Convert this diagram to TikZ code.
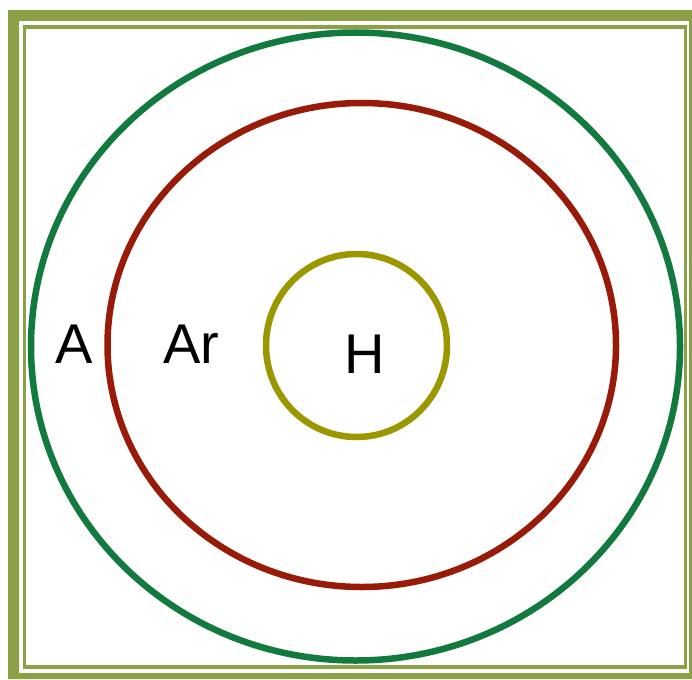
\documentclass[tikz,border=0pt]{standalone}
\usepackage{fontspec}
\setmainfont{Liberation Sans}
\usepackage{tikz}
\definecolor{framegreen}{HTML}{8BA047}
\definecolor{outergreen}{HTML}{127A3F}
\definecolor{middlered}{HTML}{981B0A}
\definecolor{innerolive}{HTML}{9A9700}
\tikzset{
  ring/.style={line width=6.5pt},
  setlabel/.style={anchor=base, inner sep=0pt, font=\fontsize{56}{60}\selectfont}
}

\begin{document}
\begin{tikzpicture}[x=1pt, y=-1pt]
\useasboundingbox (0,0) rectangle (692,679);
% frames
\fill[framegreen, even odd rule] (8,10) rectangle (692,679) (19,21) rectangle (689,673);
\draw[framegreen, line width=3.8pt] (24.5,27) rectangle (685.5,667);

% nested sets
\draw[ring, outergreen] (355.5,346.5) ellipse [x radius=324.5, y radius=314];
\draw[ring, middlered] (361.75,345) ellipse [x radius=254.25, y radius=242];
\draw[ring, innerolive] (356.5,345.5) ellipse [x radius=90.5, y radius=91.5];

\node[setlabel] (a) at (74,363) {A};
\node[setlabel] (ar) at (191.5,363) {Ar};
\node[setlabel] (h) at (365,373) {H};
\end{tikzpicture}
\end{document}
